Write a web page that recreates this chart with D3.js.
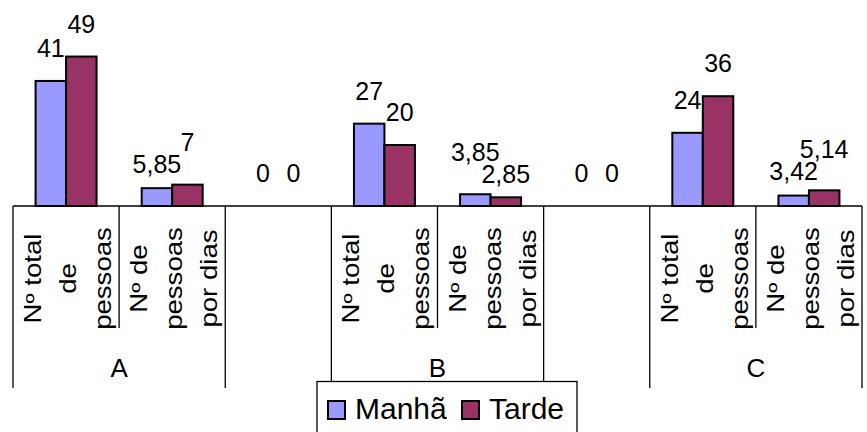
<!DOCTYPE html>
<html>
<head>
<meta charset="utf-8">
<script src="https://cdn.jsdelivr.net/npm/d3@7"></script>
<style>
  body { margin: 0; background: #fff; }
  text { font-family: "Liberation Sans", Arial, sans-serif; fill: #000; }
</style>
</head>
<body>
<div id="container"></div>
<script>
// values
let slotGroup = ["A", "A", "", "B", "B", "", "C", "C"];
let slotLines = [
  ["Nº total", "de", "pessoas"],
  ["Nº de", "pessoas", "por dias"],
  [],
  ["Nº total", "de", "pessoas"],
  ["Nº de", "pessoas", "por dias"],
  [],
  ["Nº total", "de", "pessoas"],
  ["Nº de", "pessoas", "por dias"]
];
let seriesNames = ["Manhã", "Tarde"];
let manha = [41, 5.85, 0, 27, 3.85, 0, 24, 3.42];
let tarde = [49, 7, 0, 20, 2.85, 0, 36, 5.14];
let colors = ["#9999FF", "#993366"];

let w = 867;
let h = 432;
let left = 13;
let right = 862;
let base = 206;

let viz = d3.select("#container")
  .append("svg")
  .attr("width", w)
  .attr("height", h)
  .style("background-color", "#fff");

let slots = d3.range(slotGroup.length);
let x0 = d3.scaleBand().domain(slots).range([left, right]);
let x1 = d3.scaleBand().domain(seriesNames).range([0, x0.bandwidth()]).paddingOuter(0.74);
let y = d3.scaleLinear().domain([0, 60]).range([base, base - 183]);

let fmt = v => d3.format("~g")(v).replace(".", ",");

let rows = slots.map(i => [
  { slot: i, s: seriesNames[0], v: manha[i] },
  { slot: i, s: seriesNames[1], v: tarde[i] }
]);

// bars
rows.forEach(pair => {
  pair.forEach((d, k) => {
    if (d.v <= 0) return;
    viz.append("rect")
      .attr("x", x0(d.slot) + x1(d.s))
      .attr("y", y(d.v))
      .attr("width", x1.bandwidth())
      .attr("height", base - y(d.v))
      .attr("fill", colors[k])
      .attr("stroke", "#000")
      .attr("stroke-width", 2);
  });
});

// data labels, pushed apart when neighbours collide
rows.forEach(pair => {
  let labels = pair.map(d => {
    let cx = x0(d.slot) + x1(d.s) + x1.bandwidth() / 2;
    let t = viz.append("text")
      .text(fmt(d.v))
      .attr("x", cx)
      .attr("text-anchor", "middle")
      .attr("font-size", "25px");
    return { t: t, cx: cx, yy: y(d.v) - 24, wd: t.node().getComputedTextLength() };
  });
  let [a, b] = labels;
  let hOverlap = Math.abs(a.cx - b.cx) < (a.wd + b.wd) / 2 + 2;
  let minGap = 22;
  if (hOverlap && Math.abs(a.yy - b.yy) < minGap) {
    let up = a.yy <= b.yy ? a : b;
    let down = up === a ? b : a;
    let push = (minGap - (down.yy - up.yy)) / 2;
    up.yy -= push;
    down.yy += push;
  }
  labels.forEach(l => l.t.attr("y", l.yy));
});

// category axis
viz.append("line")
  .attr("x1", left).attr("x2", right)
  .attr("y1", base).attr("y2", base)
  .attr("stroke", "#000").attr("stroke-width", 1.3);

slots.concat([slots.length]).forEach(i => {
  let xx = i < slots.length ? x0(i) : right;
  let full = i === 0 || i === slots.length || slotGroup[i] !== slotGroup[i - 1];
  viz.append("line")
    .attr("x1", xx).attr("x2", xx)
    .attr("y1", base).attr("y2", full ? 388 : 328)
    .attr("stroke", "#000").attr("stroke-width", 1.3);
});

// rotated sub-category labels
slots.forEach(i => {
  let c = x0(i) + x0.bandwidth() / 2;
  slotLines[i].forEach((line, j) => {
    let bx = c - 25 + j * 35;
    viz.append("text")
      .text(line)
      .attr("text-anchor", "middle")
      .attr("font-size", "23px")
      .attr("transform", `translate(${bx},278.5) rotate(-90) scale(1.2,1)`);
  });
});

// group labels
let groupNames = Array.from(new Set(slotGroup.filter(g => g !== "")));
groupNames.forEach(g => {
  let idx = slots.filter(i => slotGroup[i] === g);
  let cx = (x0(idx[0]) + x0(idx[idx.length - 1]) + x0.bandwidth()) / 2;
  viz.append("text")
    .text(g)
    .attr("x", cx)
    .attr("y", 377)
    .attr("text-anchor", "middle")
    .attr("font-size", "26px");
});

// legend
let legend = viz.append("g").attr("transform", "translate(317,381.5)");
legend.append("rect")
  .attr("x", 0).attr("y", 0)
  .attr("width", 260).attr("height", 60)
  .attr("fill", "#fff")
  .attr("stroke", "#000").attr("stroke-width", 1.3);
let legendX = [11, 145];
seriesNames.forEach((s, k) => {
  legend.append("rect")
    .attr("x", legendX[k]).attr("y", 19.5)
    .attr("width", 17).attr("height", 18)
    .attr("fill", colors[k])
    .attr("stroke", "#000").attr("stroke-width", 2);
  legend.append("text")
    .text(s)
    .attr("x", legendX[k] + 27)
    .attr("y", 37.5)
    .attr("font-size", "30px");
});
</script>
</body>
</html>
